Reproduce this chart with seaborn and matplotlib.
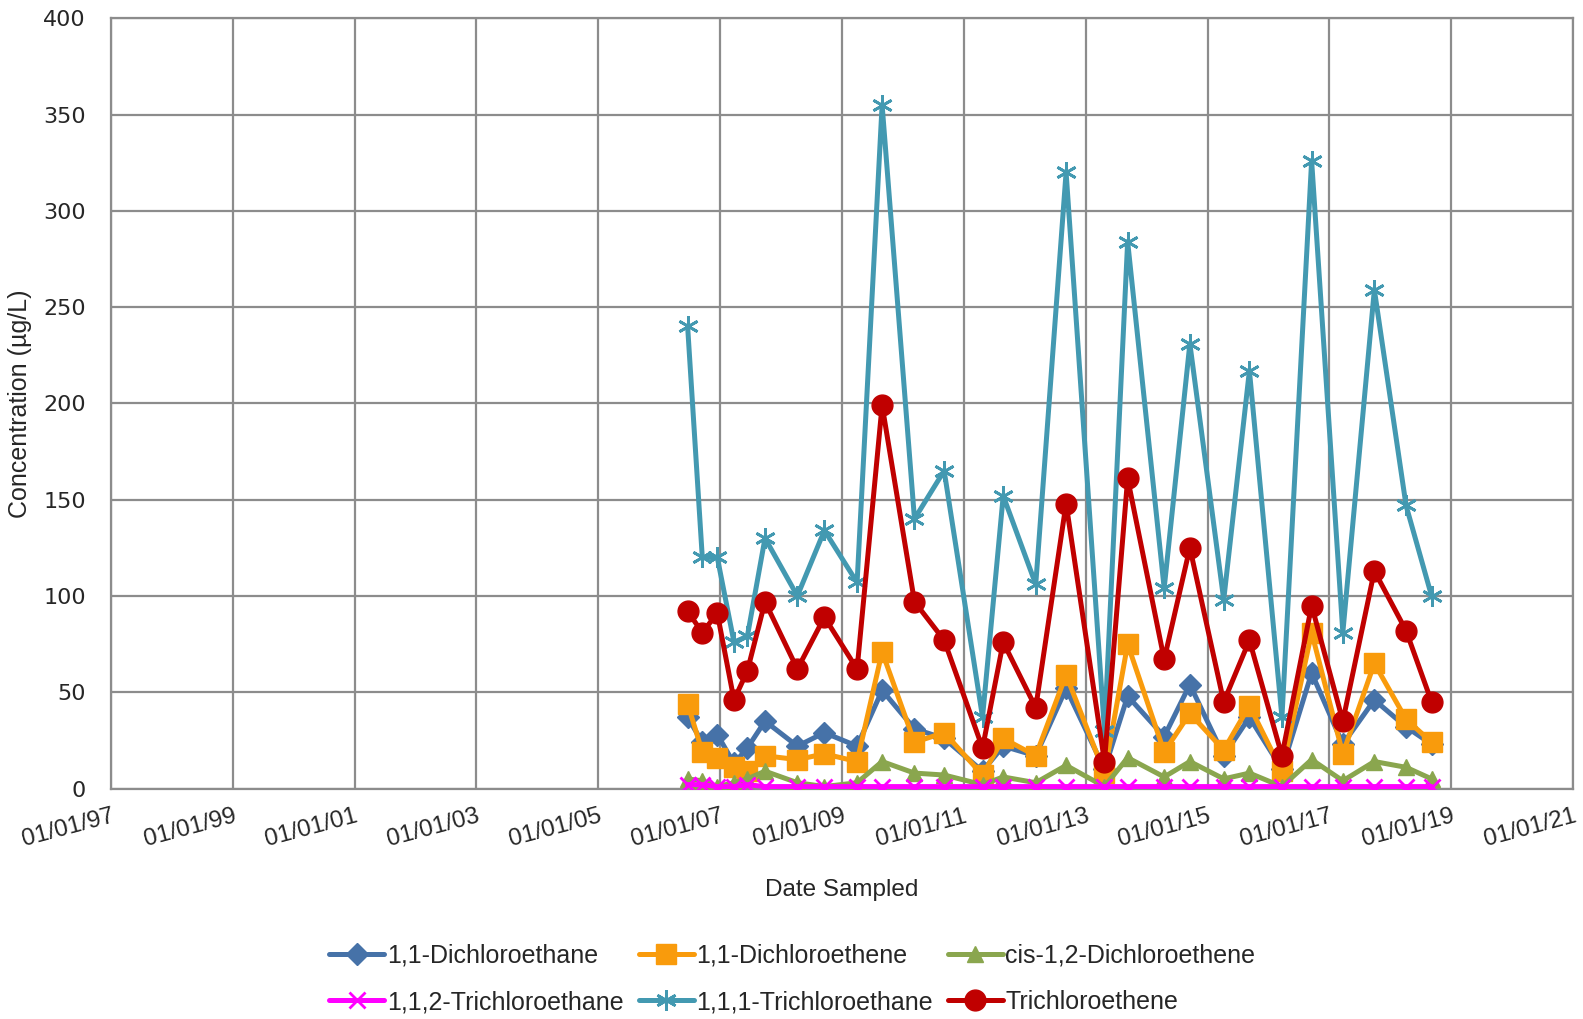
import pandas as pd
import numpy as np
import matplotlib
matplotlib.use("Agg")
import matplotlib.pyplot as plt
import matplotlib.dates as mdates
import seaborn as sns

# ---------------------- data ----------------------
dates = pd.to_datetime([
    "2006-06-20", "2006-09-16", "2006-12-15", "2007-03-25", "2007-06-13",
    "2007-09-27", "2008-04-08", "2008-09-17", "2009-04-01", "2009-08-29",
    "2010-03-11", "2010-09-05", "2011-04-23", "2011-08-25", "2012-03-07",
    "2012-09-05", "2013-04-23", "2013-09-09", "2014-04-16", "2014-09-17",
    "2015-04-08", "2015-09-09", "2016-03-22", "2016-09-16", "2017-03-22",
    "2017-09-27", "2018-04-05", "2018-09-05",
])

dca_11 = [37, 24, 28, 13, 21, 35, 22, 29, 22, 51,
          31, 26, 9, 22, 17, 52, 10, 48, 27, 54,
          17, 37, 10, 60, 23, 46, 32, 23]
dce_11 = [44, 19, 16, 11, 9, 17, 15, 18, 14, 71,
          24, 29, 7, 26, 17, 59, 8, 75, 19, 39,
          20, 43, 9, 81, 18, 65, 36, 24]
cis_dce = [5, 4, 1, 3, 5, 9, 3, 1, 3, 14,
           8, 7, 2, 6, 3, 12, 1, 16, 6, 14,
           5, 8, 1, 15, 4, 14, 11, 5]
tca_112 = [2, 2, 1, 1, 2, 1, 1, 1, 1, 1,
           1, 1, 1, 1, 1, 1, 1, 1, 1, 1,
           1, 1, 1, 1, 1, 1, 1, 1]
tca_111 = [240, 120, 120, 76, 79, 130, 100, 134, 107, 355,
           140, 165, 37, 152, 106, 320, 30, 284, 104, 231,
           98, 217, 37, 326, 81, 259, 147, 100]
tce = [92, 81, 91, 46, 61, 97, 62, 89, 62, 199,
       97, 77, 21, 76, 42, 148, 14, 161, 67, 125,
       45, 77, 17, 95, 35, 113, 82, 45]

names = ["1,1-Dichloroethane", "1,1-Dichloroethene", "cis-1,2-Dichloroethene",
         "1,1,2-Trichloroethane", "1,1,1-Trichloroethane", "Trichloroethene"]
series = [dca_11, dce_11, cis_dce, tca_112, tca_111, tce]

# ---------------------- style ----------------------
colors = ["#4672A8", "#F99B0C", "#8AA64E", "#FF00FF", "#4399B1", "#C00000"]
markers = ["D", "s", "^", "x", (6, 2, 0), "o"]
msizes = [11, 14, 12, 11, 15, 15]
mews = [1, 1, 1, 2.0, 2.0, 1]

sns.set_style("white")
plt.rcParams["font.family"] = ["Liberation Sans", "DejaVu Sans"]

fig = plt.figure(figsize=(15.83, 10.19), dpi=100)
ax = fig.add_axes([0.0701, 0.2262, 0.9237, 0.7559])

df = pd.DataFrame({"date": dates})
for name, vals in zip(names, series):
    df[name] = vals

for i, name in enumerate(names):
    sns.lineplot(data=df, x="date", y=name, ax=ax, color=colors[i],
                 marker=markers[i], markersize=msizes[i], markeredgewidth=mews[i],
                 markeredgecolor=colors[i], linewidth=3.6, label=name, zorder=3 + i)

ax.set_ylim(0, 400)
ax.set_yticks(np.arange(0, 401, 50))
ax.set_xlim(pd.Timestamp("1997-01-01"), pd.Timestamp("2021-01-01"))
ax.set_xticks(pd.to_datetime([f"{y}-01-01" for y in range(1997, 2022, 2)]))
ax.xaxis.set_major_formatter(mdates.DateFormatter("%m/%d/%y"))
ax.grid(True, color="#8c8c8c", linewidth=1.6)
for s in ax.spines.values():
    s.set_color("#8c8c8c")
    s.set_linewidth(1.6)
ax.tick_params(axis="both", length=0)
for lab in ax.get_yticklabels():
    lab.set_fontfamily("DejaVu Sans")
    lab.set_fontsize(16)
ax.tick_params(axis="y", pad=18)
for lab in ax.get_xticklabels():
    lab.set_rotation(15)
    lab.set_ha("right")
    lab.set_va("top")
    lab.set_rotation_mode("anchor")
    lab.set_fontsize(17.5)
ax.tick_params(axis="x", pad=12)

ax.set_xlabel("Date Sampled", fontsize=17.5, labelpad=20)
ax.set_ylabel("Concentration (µg/L)", fontsize=18, labelpad=8)

h, l = ax.get_legend_handles_labels()
order = [0, 3, 1, 4, 2, 5]
ax.legend([h[k] for k in order], [l[k] for k in order], ncol=3,
          loc="center", bbox_to_anchor=(0.466, -0.247), frameon=False,
          fontsize=18, handlelength=2.2, handletextpad=0.1, columnspacing=0.6,
          labelspacing=0.9, borderpad=0)

fig.savefig("out.png", dpi=100)
